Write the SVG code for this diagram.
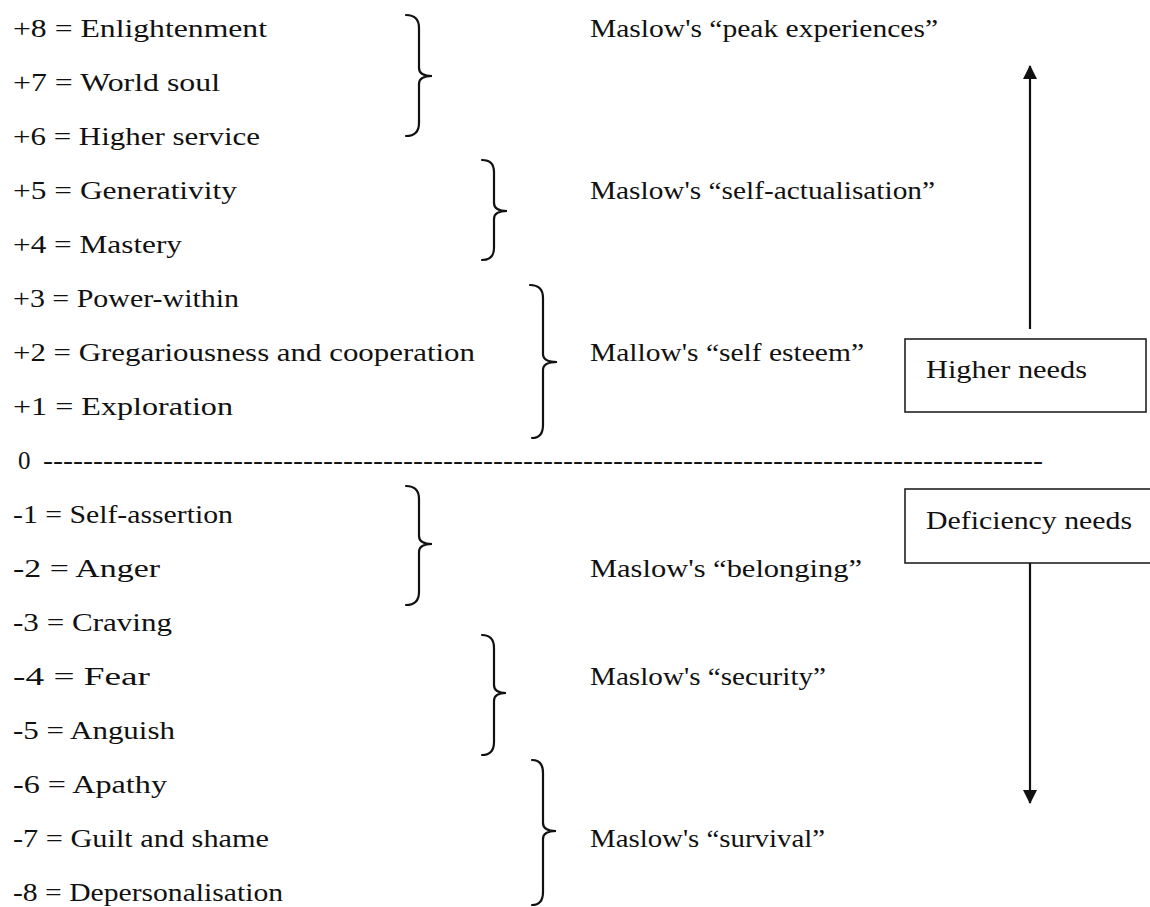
<svg xmlns="http://www.w3.org/2000/svg" width="1150" height="907" viewBox="0 0 1150 907">
<style>
text{font-family:"Liberation Serif","Times New Roman",serif;font-size:25px;fill:#111}
.br{fill:none;stroke:#111;stroke-width:2.2;stroke-linecap:round}
.box{fill:#fff;stroke:#222;stroke-width:1.6}
.ar{stroke:#111;stroke-width:2.2;fill:none}
</style>
<defs>
<marker id="ah" viewBox="0 0 14 15" refX="13" refY="7" markerWidth="14" markerHeight="15" markerUnits="userSpaceOnUse" orient="auto"><path d="M0,0 L14,7 L0,14 Z" fill="#111"/></marker>
</defs>
<rect width="1150" height="907" fill="#fff"/>
<g id="levels">
<text x="13" y="37" textLength="254" lengthAdjust="spacingAndGlyphs">+8 = Enlightenment</text>
<text x="13" y="91" textLength="207" lengthAdjust="spacingAndGlyphs">+7 = World soul</text>
<text x="13" y="145" textLength="247" lengthAdjust="spacingAndGlyphs">+6 = Higher service</text>
<text x="13" y="199" textLength="224" lengthAdjust="spacingAndGlyphs">+5 = Generativity</text>
<text x="13" y="253" textLength="169" lengthAdjust="spacingAndGlyphs">+4 = Mastery</text>
<text x="13" y="307" textLength="226" lengthAdjust="spacingAndGlyphs">+3 = Power-within</text>
<text x="13" y="361" textLength="462" lengthAdjust="spacingAndGlyphs">+2 = Gregariousness and cooperation</text>
<text x="13" y="415" textLength="220" lengthAdjust="spacingAndGlyphs">+1 = Exploration</text>
<text x="18" y="469">0 <tspan x="43" textLength="1000" lengthAdjust="spacingAndGlyphs">----------------------------------------------------------------------------------------------------</tspan></text>
<text x="13" y="523" textLength="220" lengthAdjust="spacingAndGlyphs">-1 = Self-assertion</text>
<text x="13" y="577" textLength="147" lengthAdjust="spacingAndGlyphs">-2 = Anger</text>
<text x="13" y="631" textLength="159" lengthAdjust="spacingAndGlyphs">-3 = Craving</text>
<text x="13" y="685" textLength="137" lengthAdjust="spacingAndGlyphs">-4 = Fear</text>
<text x="13" y="739" textLength="162" lengthAdjust="spacingAndGlyphs">-5 = Anguish</text>
<text x="13" y="793" textLength="154" lengthAdjust="spacingAndGlyphs">-6 = Apathy</text>
<text x="13" y="847" textLength="256" lengthAdjust="spacingAndGlyphs">-7 = Guilt and shame</text>
<text x="13" y="901" textLength="270" lengthAdjust="spacingAndGlyphs">-8 = Depersonalisation</text>
</g>
<g id="braces">
<path class="br" d="M406,15 Q419,15 419,28 L419,68 Q419,76 432,76 Q419,76 419,84 L419,123 Q419,136 406,136"/>
<path class="br" d="M482,160 Q494,160 494,172 L494,203 Q494,211 507,211 Q494,211 494,219 L494,248 Q494,260 482,260"/>
<path class="br" d="M530,285 Q543,285 543,298 L543,354 Q543,362 557,362 Q543,362 543,370 L543,425 Q543,438 532,438"/>
<path class="br" d="M406,486 Q419,486 419,499 L419,536 Q419,544 432,544 Q419,544 419,552 L419,592 Q419,605 406,605"/>
<path class="br" d="M482,635 Q494,635 494,648 L494,685 Q494,693 506,693 Q494,693 494,701 L494,742 Q494,755 482,755"/>
<path class="br" d="M532,760 Q543,760 543,773 L543,823 Q543,831 556,831 Q543,831 543,839 L543,892 Q543,905 532,905"/>
</g>
<g id="labels">
<text x="590" y="37" textLength="348" lengthAdjust="spacingAndGlyphs">Maslow's “peak experiences”</text>
<text x="590" y="199" textLength="345" lengthAdjust="spacingAndGlyphs">Maslow's “self-actualisation”</text>
<text x="590" y="361" textLength="274" lengthAdjust="spacingAndGlyphs">Mallow's “self esteem”</text>
<text x="590" y="577" textLength="272" lengthAdjust="spacingAndGlyphs">Maslow's “belonging”</text>
<text x="590" y="685" textLength="236" lengthAdjust="spacingAndGlyphs">Maslow's “security”</text>
<text x="590" y="847" textLength="235" lengthAdjust="spacingAndGlyphs">Maslow's “survival”</text>
</g>
<g id="higher-needs">
<rect class="box" x="905" y="339" width="241" height="73"/>
<text x="926" y="378" textLength="161" lengthAdjust="spacingAndGlyphs">Higher needs</text>
</g>
<g id="deficiency-needs">
<rect class="box" x="905" y="489" width="252" height="74"/>
<text x="926" y="529" textLength="206" lengthAdjust="spacingAndGlyphs">Deficiency needs</text>
</g>
<g id="connectors">
<line class="ar" x1="1030" y1="329" x2="1030" y2="66" marker-end="url(#ah)"/>
<line class="ar" x1="1030" y1="563" x2="1030" y2="803" marker-end="url(#ah)"/>
</g>
</svg>
